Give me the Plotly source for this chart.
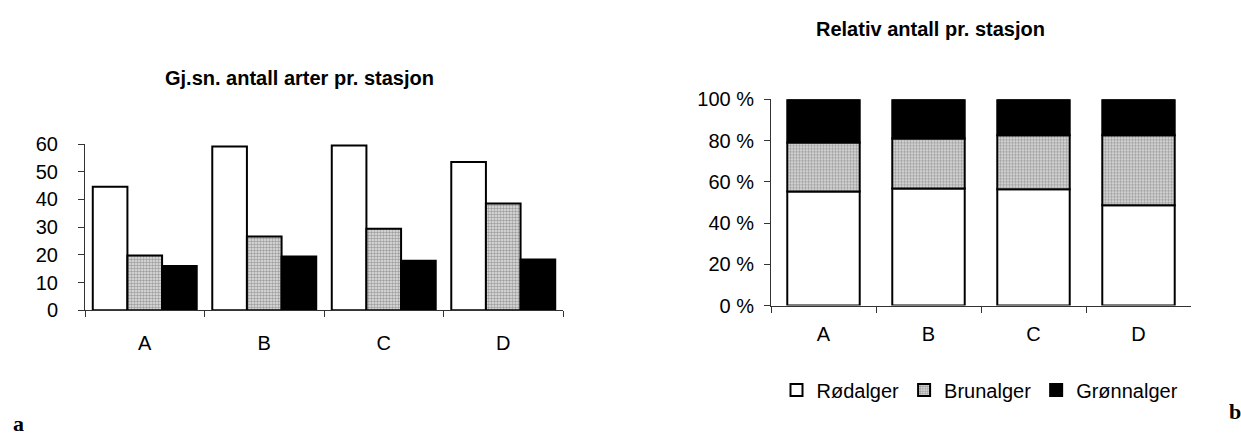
import numpy as np
import plotly.graph_objects as go

stations = ["A", "B", "C", "D"]
series_names = ["Rødalger", "Brunalger", "Grønnalger"]

# Left chart: mean number of species per station
rod_antall = [44.6, 59.1, 59.5, 53.5]
brun_antall = [19.8, 26.6, 29.4, 38.5]
gronn_antall = [16.0, 19.4, 17.9, 18.3]

# Right chart: relative share per station (%)
rod_rel = [55.3, 56.8, 56.4, 48.7]
brun_rel = [23.8, 24.2, 26.2, 33.9]
gronn_rel = [20.9, 19.0, 17.4, 17.4]

left_title = "Gj.sn. antall arter pr. stasjon"
right_title = "Relativ antall pr. stasjon"

W, H = 1241, 441
FONT = "Liberation Sans, Arial, sans-serif"
SERIF = "Liberation Serif, Times New Roman, serif"


def px(x):
    return x / W


def py(y):
    return 1 - y / H


fills = ["white", "#c8c8c8", "black"]
patterns = [dict(shape=""),
            dict(shape=".", size=3, solidity=0.55, fgcolor="#5a5a5a", bgcolor="#e4e4e4"),
            dict(shape="")]

fig = go.Figure()

for name, vals, fc, pat in zip(series_names, [rod_antall, brun_antall, gronn_antall], fills, patterns):
    fig.add_trace(go.Bar(
        x=stations, y=vals, name=name, xaxis="x", yaxis="y",
        marker=dict(color=fc, line=dict(color="black", width=2), pattern=pat),
        showlegend=False, offsetgroup=name,
    ))

rel = np.array([rod_rel, brun_rel, gronn_rel])
bases = np.vstack([np.zeros(len(stations)), np.cumsum(rel, axis=0)[:-1]])
for i, (name, fc, pat) in enumerate(zip(series_names, fills, patterns)):
    fig.add_trace(go.Bar(
        x=stations, y=rel[i], base=bases[i], name=name, xaxis="x2", yaxis="y2",
        marker=dict(color=fc, line=dict(color="black", width=2), pattern=pat),
        width=0.69, offsetgroup="stack", showlegend=True,
    ))

axis_common = dict(showline=True, linecolor="#333", linewidth=1, ticks="outside",
                   tickcolor="#333", ticklen=6, showgrid=False, zeroline=False,
                   tickfont=dict(family=FONT, size=20, color="black"))

fig.update_layout(
    width=W, height=H,
    margin=dict(l=0, r=0, t=0, b=0),
    paper_bgcolor="white", plot_bgcolor="white",
    barmode="group", bargap=0.13, bargroupgap=0,
    font=dict(family=FONT, size=20, color="black"),
    xaxis=dict(domain=[px(85), px(563)], anchor="y", tickson="boundaries",
               ticklabelstandoff=15, **axis_common),
    yaxis=dict(domain=[py(315), py(140)], anchor="x", range=[0, 60], dtick=10,
               ticklabelstandoff=16, **axis_common),
    xaxis2=dict(domain=[px(771), px(1191)], anchor="y2", tickson="boundaries",
                ticklabelstandoff=10, **axis_common),
    yaxis2=dict(domain=[py(310), py(93)], anchor="x2", range=[0, 100], dtick=20,
                ticksuffix=" %", ticklabelstandoff=6, **axis_common),
    legend=dict(orientation="h", x=px(980), xanchor="center", y=py(399), yanchor="middle",
                font=dict(family=FONT, size=20), itemwidth=30, tracegroupgap=0,
                bgcolor="rgba(0,0,0,0)"),
    annotations=[
        dict(text="<b>" + left_title + "</b>", x=px(299), y=py(70), xref="paper", yref="paper",
             showarrow=False, font=dict(family=FONT, size=20), xanchor="center", yanchor="middle"),
        dict(text="<b>" + right_title + "</b>", x=px(930), y=py(19), xref="paper", yref="paper",
             showarrow=False, font=dict(family=FONT, size=20), xanchor="center", yanchor="middle"),
        dict(text="<b>a</b>", x=px(18), y=py(434), xref="paper", yref="paper", showarrow=False,
             font=dict(family=SERIF, size=22), xanchor="center", yanchor="middle"),
        dict(text="<b>b</b>", x=px(1235), y=py(422), xref="paper", yref="paper", showarrow=False,
             font=dict(family=SERIF, size=22), xanchor="center", yanchor="middle"),
    ],
)

fig.write_html("out.html", config={"displayModeBar": False},
               post_script="document.body.style.margin='0';")
